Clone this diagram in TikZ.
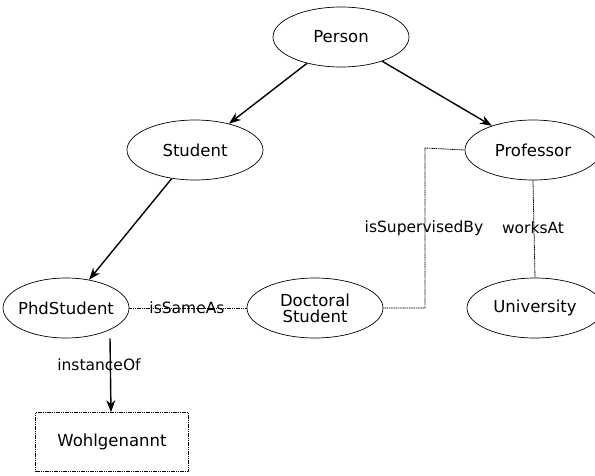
\documentclass[tikz,border=0pt]{standalone}
\usepackage{fontspec}
\setmainfont{DejaVu Sans}
\usetikzlibrary{shapes.geometric,arrows.meta}
\begin{document}
\begin{tikzpicture}[x=1pt,y=-1pt,
  concept/.style={ellipse,draw,line width=0.7pt,minimum width=136pt,minimum height=60pt,inner sep=0pt,font=\fontsize{16.5}{18}\selectfont,align=center},
  inst/.style={rectangle,draw,dash pattern=on 1.2pt off 0.6pt,line width=0.7pt,minimum width=153pt,minimum height=59pt,font=\fontsize{16.5}{18}\selectfont},
  subclass/.style={line width=1.4pt,-{Stealth[length=12pt,width=9pt]}},
  relation/.style={dash pattern=on 1.2pt off 0.6pt,line width=0.8pt},
  rlabel/.style={font=\fontsize{15.5}{17}\selectfont,inner sep=1pt}]
\useasboundingbox (0,0) rectangle (595,475);

\node[concept] (person) at (341,37) {Person};
\node[concept] (student) at (195,150) {Student};
\node[concept] (prof) at (533,150) {Professor};
\node[concept,minimum width=126pt,inner xsep=-6pt] (phd) at (66,308) {PhdStudent};
\node[concept] (doc) at (315,308) {Doctoral\\[-2pt]Student};
\node[concept] (uni) at (535,308) {University};
\node[inst] (wohl) at (112,442) {Wohlgenannt};

% subclass arrows
\draw[subclass] (person) -- (student);
\draw[subclass] (person) -- (prof);
\draw[subclass] (student) -- (phd);
\draw[subclass] (phd.south -| 110,0) -- (wohl.north -| 111,0);

% relations
\draw[relation] (phd) -- (doc);
\coordinate (c1) at (425,308);
\coordinate (c2) at (425,148);
\draw[relation] (doc.east) -- (c1) -- (c2) -- (prof.west);
\draw[relation] (prof.south) -- (uni.north);

% relation labels
\node[rlabel] (lsame) at (187,308) {isSameAs};
\node[rlabel] (lsup) at (424,228) {isSupervisedBy};
\node[rlabel] (lworks) at (533,228) {worksAt};
\node[rlabel] (linst) at (99,365) {instanceOf};
\end{tikzpicture}
\end{document}
